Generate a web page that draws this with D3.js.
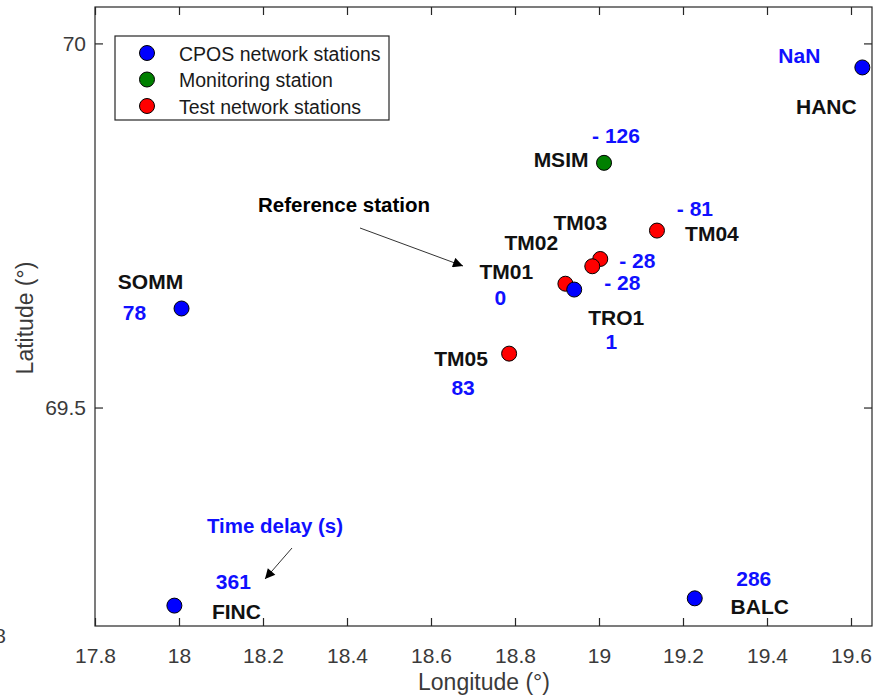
<!DOCTYPE html>
<html>
<head>
<meta charset="utf-8">
<script src="https://cdn.jsdelivr.net/npm/d3@7"></script>
<style>
  body { margin: 0; background: #fff; }
  svg { display: block; }
  text { font-family: "Liberation Sans", Arial, sans-serif; }
</style>
</head>
<body>
<script>
const width = 877;
const height = 697;

// station data (drawing order: test stations first, CPOS on top)
const stations = ["TM05", "TM04", "TM03", "TM02", "TM01", "MSIM", "TRO1", "SOMM", "FINC", "BALC", "HANC"];
const stationTypes = ["test", "test", "test", "test", "test", "monitor", "cpos", "cpos", "cpos", "cpos", "cpos"];
const longitudes = [18.786, 19.138, 19.003, 18.984, 18.920, 19.012, 18.941, 18.006, 17.989, 19.228, 19.627];
const latitudes = [69.574, 69.743, 69.704, 69.694, 69.670, 69.836, 69.662, 69.636, 69.228, 69.238, 69.967];
const delays = [83, -81, -28, -28, 0, -126, 1, 78, 361, 286, NaN];

const xTicks = [17.8, 18, 18.2, 18.4, 18.6, 18.8, 19, 19.2, 19.4, 19.6];
const yTicks = [69.5, 70];

const legendLabels = ["CPOS network stations", "Monitoring station", "Test network stations"];
const legendTypes = ["cpos", "monitor", "test"];

const typeColor = { cpos: "#0000ff", monitor: "#008000", test: "#ff0000" };

// label offsets in px from the marker: [name dx, name dy, delay dx, delay dy]
const labelOffsets = {
  TM05: [-48, 12, -46, 41],
  TM04: [55, 10, 38, -15],
  TM03: [-20, -29, 37, 9],
  TM02: [-61, -16, 30, 24],
  TM01: [-59, -5, -65, 21],
  MSIM: [-43, 4, 12, -20],
  TRO1: [42, 35, 37, 59],
  SOMM: [-31, -19, -47, 12],
  FINC: [62, 13, 59, -17],
  BALC: [65, 16, 59, -12],
  HANC: [-36, 47, -63, -4]
};

const x = d3.scaleLinear().domain([17.8, 19.65]).range([95, 872]);
const y = d3.scaleLinear().domain([69.2, 70.05]).range([626, 7]);

const svg = d3.select("body").append("svg")
  .attr("width", width)
  .attr("height", height);

const axisColor = "#262626";
const tickLen = 8;

// frame
svg.append("rect")
  .attr("x", x.range()[0]).attr("y", y.range()[1])
  .attr("width", x.range()[1] - x.range()[0])
  .attr("height", y.range()[0] - y.range()[1])
  .attr("fill", "none")
  .attr("stroke", axisColor)
  .attr("stroke-width", 1.2);

// axes with inward ticks
const xAxisBottom = svg.append("g")
  .attr("transform", `translate(0,${y.range()[0]})`)
  .call(d3.axisBottom(x).tickValues(xTicks).tickSizeInner(-tickLen).tickSizeOuter(0).tickPadding(22).tickFormat(d3.format("")));
const xAxisTop = svg.append("g")
  .attr("transform", `translate(0,${y.range()[1]})`)
  .call(d3.axisTop(x).tickValues(xTicks).tickSizeInner(-tickLen).tickSizeOuter(0).tickFormat(""));
const yAxisLeft = svg.append("g")
  .attr("transform", `translate(${x.range()[0]},0)`)
  .call(d3.axisLeft(y).tickValues(yTicks).tickSizeInner(-tickLen).tickSizeOuter(0).tickPadding(9).tickFormat(d3.format("")));
const yAxisRight = svg.append("g")
  .attr("transform", `translate(${x.range()[1]},0)`)
  .call(d3.axisRight(y).tickValues(yTicks).tickSizeInner(-tickLen).tickSizeOuter(0).tickFormat(""));

[xAxisBottom, xAxisTop, yAxisLeft, yAxisRight].forEach(g => {
  g.select(".domain").remove();
  g.selectAll(".tick line").attr("stroke", axisColor).attr("stroke-width", 1.2);
  g.selectAll(".tick text")
    .attr("fill", "#3a3a3a")
    .attr("font-size", 21)
    .attr("font-family", "Liberation Sans, Arial, sans-serif");
});

// axis titles
svg.append("text")
  .attr("x", 484).attr("y", 690)
  .attr("text-anchor", "middle")
  .attr("font-size", 23)
  .attr("fill", "#3a3a3a")
  .text("Longitude (\u00b0)");

svg.append("text")
  .attr("transform", "translate(33,318) rotate(-90)")
  .attr("text-anchor", "middle")
  .attr("font-size", 23)
  .attr("fill", "#3a3a3a")
  .text("Latitude (\u00b0)");

// clipped stray label at the left edge
svg.append("text")
  .attr("x", 6).attr("y", 643)
  .attr("text-anchor", "end")
  .attr("font-size", 21)
  .attr("fill", "#3a3a3a")
  .text("8");

const data = stations.map((name, i) => ({
  name,
  type: stationTypes[i],
  lon: longitudes[i],
  lat: latitudes[i],
  delay: delays[i]
}));

const fmtDelay = d => (isNaN(d) ? "NaN" : d < 0 ? "- " + Math.abs(d) : String(d));

// markers
svg.append("g")
  .selectAll("circle")
  .data(data)
  .join("circle")
  .attr("cx", d => x(d.lon))
  .attr("cy", d => y(d.lat))
  .attr("r", 7.5)
  .attr("fill", d => typeColor[d.type])
  .attr("stroke", "#000")
  .attr("stroke-width", 1);

// station names
svg.append("g")
  .selectAll("text")
  .data(data)
  .join("text")
  .attr("x", d => x(d.lon) + labelOffsets[d.name][0])
  .attr("y", d => y(d.lat) + labelOffsets[d.name][1])
  .attr("text-anchor", "middle")
  .attr("font-size", 21)
  .attr("font-weight", "bold")
  .attr("fill", "#111")
  .text(d => d.name);

// time delays
svg.append("g")
  .selectAll("text")
  .data(data)
  .join("text")
  .attr("x", d => x(d.lon) + labelOffsets[d.name][2])
  .attr("y", d => y(d.lat) + labelOffsets[d.name][3])
  .attr("text-anchor", "middle")
  .attr("font-size", 21)
  .attr("font-weight", "bold")
  .attr("fill", "#1010ff")
  .text(d => fmtDelay(d.delay));

// legend
const legend = svg.append("g");
legend.append("rect")
  .attr("x", 115).attr("y", 36)
  .attr("width", 274).attr("height", 84)
  .attr("fill", "#fff")
  .attr("stroke", axisColor)
  .attr("stroke-width", 1.2);

const legendRows = legend.selectAll("g.row")
  .data(legendLabels)
  .join("g")
  .attr("class", "row")
  .attr("transform", (d, i) => `translate(0,${53 + i * 26.5})`);

legendRows.append("circle")
  .attr("cx", 147).attr("cy", 0).attr("r", 7.5)
  .attr("fill", (d, i) => typeColor[legendTypes[i]])
  .attr("stroke", "#000");

legendRows.append("text")
  .attr("x", 179).attr("y", 7.5)
  .attr("font-size", 19.5)
  .attr("fill", "#1a1a1a")
  .text(d => d);

// annotations
const defs = svg.append("defs");
defs.append("marker")
  .attr("id", "arrow")
  .attr("viewBox", "0 0 10 10")
  .attr("refX", 10).attr("refY", 5)
  .attr("markerWidth", 13).attr("markerHeight", 10)
  .attr("markerUnits", "userSpaceOnUse")
  .attr("orient", "auto")
  .append("path")
  .attr("d", "M0,0L10,5L0,10Z")
  .attr("fill", "#000");

svg.append("line")
  .attr("x1", 360).attr("y1", 228)
  .attr("x2", 463).attr("y2", 266)
  .attr("stroke", "#333").attr("stroke-width", 1)
  .attr("marker-end", "url(#arrow)");

svg.append("text")
  .attr("x", 258).attr("y", 212)
  .attr("font-family", "Lato, 'Open Sans', sans-serif")
  .attr("font-size", 20)
  .attr("font-weight", "bold")
  .attr("fill", "#000")
  .attr("textLength", 172)
  .attr("lengthAdjust", "spacingAndGlyphs")
  .text("Reference station");

svg.append("line")
  .attr("x1", 292).attr("y1", 548)
  .attr("x2", 265).attr("y2", 579)
  .attr("stroke", "#333").attr("stroke-width", 1)
  .attr("marker-end", "url(#arrow)");

svg.append("text")
  .attr("x", 207).attr("y", 533)
  .attr("font-family", "Lato, 'Open Sans', sans-serif")
  .attr("font-size", 20)
  .attr("font-weight", "bold")
  .attr("fill", "#1010ff")
  .attr("textLength", 136)
  .attr("lengthAdjust", "spacingAndGlyphs")
  .text("Time delay (s)");
</script>
</body>
</html>
